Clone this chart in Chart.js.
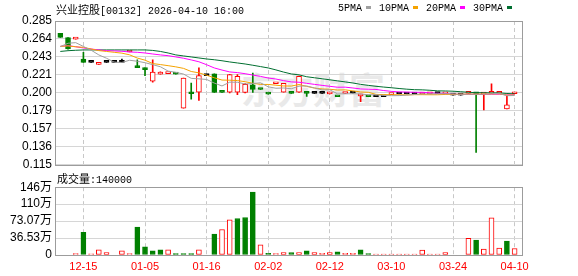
<!DOCTYPE html>
<html lang="zh">
<head>
<meta charset="utf-8">
<title>兴业控股 00132</title>
<script src="https://cdn.jsdelivr.net/npm/chart.js@4/dist/chart.umd.min.js"></script>
<style>
  body { margin: 0; background: #fff; }
  #wrap { position: relative; width: 578px; height: 276px; overflow: hidden; }
  #wrap canvas { position: absolute; left: 0; }
  .lbl { position: absolute; white-space: nowrap; font: 10px "Liberation Mono", monospace; line-height: 12px; color: #000; }
  .cjk { font-family: "Noto Sans CJK SC", sans-serif; font-size: 11px; }
  .sw { display: inline-block; width: 5px; height: 3px; margin: 0 8.5px 1px 3.5px; vertical-align: middle; }
  #wm { position: absolute; left: 241px; top: 70px; font: bold 36px/1 "Noto Sans CJK SC", sans-serif; color: #e9e9e9; }
</style>
</head>
<body>
<div id="wrap">
  <div id="wm">东方财富</div>
  <canvas id="priceChart" width="578" height="176" style="top:0"></canvas>
  <canvas id="volChart" width="578" height="100" style="top:176px"></canvas>
  <div class="lbl" style="left:56px;top:3px"><span class="cjk">兴业控股</span>[00132] 2026-04-10 16:00</div>
  <div class="lbl" id="legend" style="left:338px;top:3px"></div>
  <div class="lbl" style="left:57px;top:172px"><span class="cjk">成交量</span>:<span id="lastVol"></span></div>
</div>
<script>
// trading days shown on the chart
const dates = [
  '12-10', '12-11', '12-12', '12-15', '12-16', '12-17', '12-19', '12-22', '12-23', '12-30',
  '01-02', '01-05', '01-06', '01-07', '01-08', '01-09', '01-12', '01-13', '01-15', '01-16',
  '01-19', '01-20', '01-21', '01-22', '01-23', '01-27', '01-29', '02-02', '02-03', '02-04',
  '02-05', '02-06', '02-09', '02-10', '02-11', '02-12', '02-13', '02-20', '02-24', '02-26',
  '03-02', '03-04', '03-06', '03-10', '03-11', '03-12', '03-13', '03-16', '03-18', '03-19',
  '03-20', '03-24', '03-25', '03-27', '03-30', '04-01', '04-02', '04-07', '04-08', '04-10'
];

const openP = [
  0.2705, 0.2653, 0.2635, 0.2401, 0.2360, 0.2338, 0.2360, 0.2360, 0.2360, 0.2484,
  0.2311, 0.2295, 0.2138, 0.2222, 0.2228, 0.2228, 0.1820, 0.2003, 0.2010, 0.2205,
  0.2224, 0.2010, 0.2008, 0.2008, 0.2005, 0.2095, 0.2045, 0.1990, 0.2108, 0.2008,
  0.2000, 0.2008, 0.2000, 0.1995, 0.1995, 0.1988, 0.1960, 0.1993, 0.1998, 0.1965,
  0.1960, 0.1955, 0.1955, 0.1980, 0.1987, 0.1987, 0.1987, 0.1987, 0.1989, 0.1991,
  0.1989, 0.1973, 0.1973, 0.1994, 0.1998, 0.1985, 0.1995, 0.1996, 0.1810, 0.1990
];
const highP = [
  0.2705, 0.2653, 0.2645, 0.2480, 0.2360, 0.2360, 0.2360, 0.2360, 0.2401, 0.2492,
  0.2390, 0.2295, 0.2390, 0.2250, 0.2236, 0.2228, 0.2175, 0.2115, 0.2295, 0.2205,
  0.2224, 0.2010, 0.2220, 0.2216, 0.2110, 0.2235, 0.2045, 0.1990, 0.2112, 0.2114,
  0.2000, 0.2200, 0.2000, 0.1995, 0.1995, 0.2003, 0.1960, 0.1998, 0.1998, 0.1985,
  0.1960, 0.1955, 0.1955, 0.1987, 0.1987, 0.1987, 0.1987, 0.1990, 0.1991, 0.1991,
  0.1991, 0.1973, 0.1973, 0.1998, 0.1998, 0.1992, 0.2106, 0.1999, 0.1968, 0.2000
];
const lowP = [
  0.2657, 0.2516, 0.2635, 0.2360, 0.2360, 0.2338, 0.2360, 0.2360, 0.2360, 0.2484,
  0.2299, 0.2205, 0.2126, 0.2222, 0.2228, 0.2222, 0.1820, 0.1925, 0.1910, 0.2205,
  0.2005, 0.2006, 0.2000, 0.1980, 0.2000, 0.2005, 0.2040, 0.1985, 0.2108, 0.2008,
  0.1995, 0.2005, 0.1957, 0.1995, 0.1995, 0.1988, 0.1955, 0.1993, 0.1998, 0.1897,
  0.1955, 0.1955, 0.1955, 0.1980, 0.1987, 0.1987, 0.1987, 0.1987, 0.1989, 0.1991,
  0.1989, 0.1973, 0.1973, 0.1994, 0.1295, 0.1800, 0.1995, 0.1996, 0.1810, 0.1990
];
const closeP = [
  0.2657, 0.2520, 0.2645, 0.2360, 0.2360, 0.2360, 0.2360, 0.2360, 0.2360, 0.2492,
  0.2299, 0.2275, 0.2245, 0.2235, 0.2236, 0.2222, 0.2175, 0.1990, 0.2205, 0.2205,
  0.2005, 0.2006, 0.2216, 0.2197, 0.2100, 0.2040, 0.2040, 0.1985, 0.2112, 0.2114,
  0.1995, 0.2195, 0.1995, 0.1995, 0.1995, 0.2003, 0.1955, 0.1998, 0.1998, 0.1985,
  0.1955, 0.1955, 0.1955, 0.1987, 0.1987, 0.1987, 0.1987, 0.1990, 0.1991, 0.1991,
  0.1991, 0.1973, 0.1973, 0.1998, 0.1990, 0.1992, 0.1998, 0.1999, 0.1858, 0.2000
];
const volume = [
  0, 0, 28000, 490000, 25000, 110000, 50000, 0, 90000, 30000,
  600000, 175000, 90000, 110000, 110000, 28000, 28000, 28000, 110000, 0,
  450000, 550000, 760000, 787000, 808000, 1356000, 218000, 35000, 28000, 50000,
  50000, 50000, 90000, 50000, 35000, 50000, 70000, 35000, 35000, 110000,
  28000, 20000, 20000, 20000, 20000, 20000, 20000, 105000, 20000, 20000,
  50000, 0, 0, 358000, 323000, 126000, 800000, 148000, 302000, 140000
];

// moving averages as printed on the chart
const ma5 = [
  0.2547, 0.2587, 0.2594, 0.2549, 0.2505, 0.2449, 0.2410, 0.2363, 0.2360, 0.2386,
  0.2374, 0.2357, 0.2334, 0.2309, 0.2258, 0.2243, 0.2223, 0.2172, 0.2166, 0.2159,
  0.2116, 0.2082, 0.2127, 0.2126, 0.2105, 0.2112, 0.2119, 0.2072, 0.2055, 0.2058,
  0.2049, 0.2080, 0.2082, 0.2059, 0.2035, 0.2037, 0.1989, 0.1989, 0.1990, 0.1988,
  0.1978, 0.1978, 0.1970, 0.1967, 0.1968, 0.1974, 0.1981, 0.1988, 0.1988, 0.1989,
  0.1990, 0.1987, 0.1984, 0.1985, 0.1985, 0.1985, 0.1990, 0.1995, 0.1967, 0.1969
];
const ma10 = [
  0.2550, 0.2556, 0.2545, 0.2539, 0.2519, 0.2500, 0.2490, 0.2480, 0.2470, 0.2450,
  0.2412, 0.2387, 0.2347, 0.2335, 0.2322, 0.2308, 0.2290, 0.2253, 0.2237, 0.2209,
  0.2179, 0.2152, 0.2150, 0.2146, 0.2132, 0.2114, 0.2100, 0.2100, 0.2091, 0.2082,
  0.2081, 0.2099, 0.2077, 0.2057, 0.2047, 0.2043, 0.2034, 0.2036, 0.2024, 0.2011,
  0.2007, 0.1983, 0.1979, 0.1979, 0.1978, 0.1976, 0.1979, 0.1979, 0.1978, 0.1978,
  0.1982, 0.1983, 0.1985, 0.1986, 0.1986, 0.1987, 0.1988, 0.1989, 0.1974, 0.1975
];
const ma20 = [
  0.2551, 0.2558, 0.2546, 0.2531, 0.2519, 0.2508, 0.2499, 0.2496, 0.2492, 0.2484,
  0.2480, 0.2472, 0.2460, 0.2449, 0.2440, 0.2425, 0.2410, 0.2390, 0.2368, 0.2333,
  0.2295, 0.2270, 0.2248, 0.2240, 0.2227, 0.2211, 0.2195, 0.2176, 0.2164, 0.2145,
  0.2130, 0.2126, 0.2113, 0.2101, 0.2089, 0.2078, 0.2067, 0.2068, 0.2058, 0.2047,
  0.2044, 0.2041, 0.2028, 0.2018, 0.2012, 0.2010, 0.2007, 0.2007, 0.2001, 0.1995,
  0.1995, 0.1984, 0.1983, 0.1983, 0.1983, 0.1982, 0.1984, 0.1984, 0.1977, 0.1978
];
const ma30 = [
  0.2490, 0.2499, 0.2504, 0.2508, 0.2508, 0.2508, 0.2508, 0.2508, 0.2508, 0.2508,
  0.2508, 0.2508, 0.2502, 0.2490, 0.2472, 0.2449, 0.2437, 0.2425, 0.2413, 0.2401,
  0.2392, 0.2380, 0.2366, 0.2354, 0.2342, 0.2327, 0.2311, 0.2295, 0.2272, 0.2246,
  0.2224, 0.2213, 0.2191, 0.2179, 0.2167, 0.2155, 0.2142, 0.2130, 0.2117, 0.2101,
  0.2089, 0.2078, 0.2069, 0.2061, 0.2052, 0.2044, 0.2038, 0.2036, 0.2031, 0.2024,
  0.2023, 0.2020, 0.2014, 0.2007, 0.2003, 0.2002, 0.2000, 0.2000, 0.1993, 0.1989
];
const maNames = ['5PMA', '10PMA', '20PMA', '30PMA'];

// axis labels
const priceTicks = ['0.285', '0.264', '0.243', '0.221', '0.200', '0.179', '0.157', '0.136', '0.115'];
const volTickLabels = ['0', '36.53万', '73.07万', '110万', '146万'];
const volAxisMax = 1461300;
const xTickDates = ['12-15', '01-05', '01-16', '02-02', '02-12', '03-10', '03-24', '04-10'];

Chart.defaults.font.family = "'Liberation Sans', 'Noto Sans CJK SC', sans-serif";
Chart.defaults.color = '#000';

const RED = '#ff0000', GREEN = '#008000', BLACK = '#000000';
const MA_COLORS = ['#a0a0a0', '#f5a300', '#ff00ff', '#006f30'];
const GRID_H = '#d6d6d6', GRID_V = '#c8c8c8', FRAME = '#9c9c9c';

const idx = dates.map((d, i) => i);
const tickIdx = xTickDates.map(d => dates.indexOf(d));
const xMin = -0.56, xMax = dates.length - 0.04;

function candleColor(i) {
  if (closeP[i] > openP[i]) return RED;
  if (closeP[i] < openP[i]) return GREEN;
  return BLACK;
}
function bodyFill(i) {
  return closeP[i] > openP[i] ? '#ffffff' : candleColor(i);
}
// volume colour follows the change against the previous close
function volUp(i) {
  return i === 0 || closeP[i] >= closeP[i - 1];
}

// grey box round the plot area
const frame = {
  id: 'frame',
  afterDraw(chart) {
    const { ctx, chartArea: a } = chart;
    ctx.save();
    ctx.strokeStyle = FRAME;
    ctx.lineWidth = 1;
    ctx.strokeRect(Math.round(a.left) - 0.5, Math.round(a.top) + 0.5,
      Math.round(a.right - a.left) + 1, Math.round(a.bottom - a.top));
    ctx.restore();
  }
};

function xScale(showLabels) {
  return {
    type: 'linear',
    min: xMin,
    max: xMax,
    bounds: 'data',
    offset: false,
    afterBuildTicks: s => { s.ticks = tickIdx.map(v => ({ value: v })); },
    ticks: {
      display: showLabels, color: RED, font: { size: 11 }, padding: 5,
      maxRotation: 0, autoSkip: false, callback: v => dates[v]
    },
    grid: { color: GRID_V, drawTicks: false, offset: false },
    border: { display: false, dash: [4, 3] },
    afterFit: s => { s.height = showLabels ? 21 : 0; }
  };
}

// price chart
const pMax = parseFloat(priceTicks[0]);
const pMin = parseFloat(priceTicks[priceTicks.length - 1]);
const pStep = (pMax - pMin) / (priceTicks.length - 1);

const maSeries = [ma5, ma10, ma20, ma30];

new Chart(document.getElementById('priceChart'), {
  type: 'bar',
  data: {
    datasets: [
      ...maSeries.map((s, k) => ({
        type: 'line',
        label: maNames[k],
        data: idx.map(i => ({ x: i, y: s[i] })),
        borderColor: MA_COLORS[k],
        borderWidth: 1,
        pointRadius: 0,
        tension: 0,
        order: 0
      })),
      {
        label: 'body',
        data: idx.map(i => ({ x: i, y: [openP[i], closeP[i]] })),
        backgroundColor: idx.map(bodyFill),
        borderColor: idx.map(candleColor),
        borderWidth: 1,
        borderSkipped: false,
        barThickness: 5,
        maxBarThickness: 5,
        minBarLength: 2,
        grouped: false,
        order: 1
      },
      {
        label: 'wick',
        data: idx.map(i => ({ x: i, y: [lowP[i], highP[i]] })),
        backgroundColor: idx.map(candleColor),
        borderWidth: 0,
        barThickness: 1,
        maxBarThickness: 1,
        grouped: false,
        order: 2
      }
    ]
  },
  options: {
    responsive: false,
    animation: false,
    events: [],
    layout: { padding: { top: 21, right: 56, bottom: 11, left: 0 }, autoPadding: false },
    plugins: { legend: { display: false }, tooltip: { enabled: false } },
    scales: {
      x: xScale(false),
      y: {
        min: pMin,
        max: pMax,
        bounds: 'data',
        afterBuildTicks: s => { s.ticks = priceTicks.map((t, k) => ({ value: pMin + k * pStep })); },
        ticks: { callback: (v, k) => priceTicks[priceTicks.length - 1 - k], font: { size: 12 }, padding: 4, autoSkip: false },
        grid: { color: GRID_H, drawTicks: false },
        border: { display: false },
        afterFit: s => { s.width = 56; }
      }
    }
  },
  plugins: [frame]
});

// volume chart
const vStep = volAxisMax / (volTickLabels.length - 1);

new Chart(document.getElementById('volChart'), {
  type: 'bar',
  data: {
    datasets: [{
      label: '成交量',
      data: idx.map(i => ({ x: i, y: volume[i] })),
      backgroundColor: idx.map(i => volUp(i) ? '#ffffff' : GREEN),
      borderColor: idx.map(i => volUp(i) ? RED : GREEN),
      borderWidth: 1,
      borderSkipped: false,
      barThickness: 5,
      maxBarThickness: 5,
      grouped: false
    }]
  },
  options: {
    responsive: false,
    animation: false,
    events: [],
    layout: { padding: { top: 10, right: 56, bottom: 0, left: 0 }, autoPadding: false },
    plugins: { legend: { display: false }, tooltip: { enabled: false } },
    scales: {
      x: xScale(true),
      y: {
        min: 0,
        max: volAxisMax,
        bounds: 'data',
        afterBuildTicks: s => { s.ticks = volTickLabels.map((t, k) => ({ value: k * vStep })); },
        ticks: { callback: (v, k) => volTickLabels[k], font: { size: 12 }, padding: 4, autoSkip: false },
        grid: { color: GRID_H, drawTicks: false },
        border: { display: false },
        afterFit: s => { s.width = 56; }
      }
    }
  },
  plugins: [frame]
});

// legend and last volume text
const legend = document.getElementById('legend');
maNames.forEach((name, k) => {
  const t = document.createElement('span');
  t.textContent = name;
  const sw = document.createElement('span');
  sw.className = 'sw';
  sw.style.background = MA_COLORS[k];
  legend.appendChild(t);
  legend.appendChild(sw);
});
document.getElementById('lastVol').textContent = volume[volume.length - 1];
</script>
</body>
</html>
